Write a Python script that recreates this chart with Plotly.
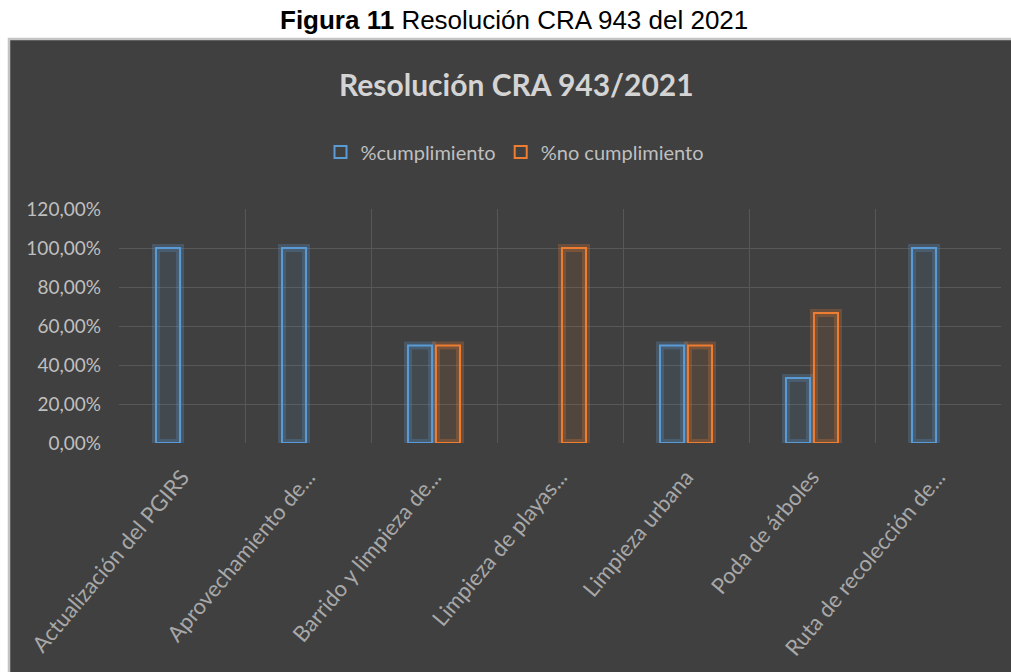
import plotly.graph_objects as go

categorias = ["Actualización del PGIRS", "Aprovechamiento de...", "Barrido y limpieza de...",
              "Limpieza de playas...", "Limpieza urbana", "Poda de árboles", "Ruta de recolección de..."]
cumplimiento = [1.0, 1.0, 0.5, 0.0, 0.5, 0.3333, 1.0]
no_cumplimiento = [0.0, 0.0, 0.5, 1.0, 0.5, 0.6667, 0.0]
tick_vals = [0, 0.2, 0.4, 0.6, 0.8, 1.0, 1.2]

BLUE = "#5B9BD5"
ORANGE = "#ED7D31"
BG = "#404040"


def visible(vals):
    # Excel draws nothing for a 0 % bar
    return [v if v > 0 else None for v in vals]


fig = go.Figure()
# soft glow behind each outlined bar
fig.add_trace(go.Bar(x=categorias, y=visible(cumplimiento), offsetgroup="1", showlegend=False, hoverinfo="skip",
                     marker=dict(color="rgba(91,155,213,0.10)", line=dict(color="rgba(91,155,213,0.25)", width=8))))
fig.add_trace(go.Bar(x=categorias, y=visible(no_cumplimiento), offsetgroup="2", showlegend=False, hoverinfo="skip",
                     marker=dict(color="rgba(237,125,49,0.10)", line=dict(color="rgba(237,125,49,0.25)", width=8))))
# outlined bars
fig.add_trace(go.Bar(x=categorias, y=visible(cumplimiento), offsetgroup="1", name="%cumplimiento",
                     marker=dict(color="rgba(0,0,0,0)", line=dict(color=BLUE, width=2))))
fig.add_trace(go.Bar(x=categorias, y=visible(no_cumplimiento), offsetgroup="2", name="%no cumplimiento",
                     marker=dict(color="rgba(0,0,0,0)", line=dict(color=ORANGE, width=2))))

FW, FH = 1011, 672
L, R = 119, 10
T = 209
B = FH - 443
W = FW - L - R
H = FH - T - B


def px_x(p):  # reference pixel -> paper x
    return (p - L) / W


def px_y(p):  # reference pixel -> paper y
    return (FH - B - p) / H


fig.update_layout(
    width=FW, height=FH,
    margin=dict(l=L, r=R, t=T, b=B),
    paper_bgcolor="white",
    plot_bgcolor="rgba(0,0,0,0)",
    barmode="group",
    bargap=0.556,
    bargroupgap=0.14,
    separators=",.",
    showlegend=True,
    legend=dict(orientation="h", x=px_x(515), xanchor="center", y=px_y(152), yanchor="middle",
                font=dict(family="Lato", size=20, color="#BFBFBF"), bgcolor="rgba(0,0,0,0)",
                itemwidth=30, traceorder="normal"),
    shapes=[dict(type="rect", xref="paper", yref="paper", layer="below",
                 x0=px_x(9), x1=px_x(1020), y0=px_y(680), y1=px_y(39),
                 fillcolor=BG, line=dict(color="#C4C4C4", width=2.5))],
    annotations=[
        dict(text="<b>Figura 11</b> Resolución CRA 943 del 2021", xref="paper", yref="paper",
             x=px_x(514), y=px_y(20), showarrow=False, xanchor="center", yanchor="middle",
             font=dict(family="Liberation Sans", size=26, color="black")),
        dict(text="<b>Resolución CRA 943/2021</b>", xref="paper", yref="paper",
             x=px_x(516), y=px_y(84), showarrow=False, xanchor="center", yanchor="middle",
             font=dict(family="Lato", size=30, color="#D4D4D4")),
    ],
    xaxis=dict(tickson="boundaries", showgrid=True, gridcolor="#575757", gridwidth=1.3,
               tickangle=-50, ticks="", ticklabelstandoff=16,
               tickfont=dict(family="Lato", size=22, color="#A8A8A8"),
               showline=False, zeroline=False),
    yaxis=dict(range=[0, 1.2], tickvals=tick_vals, tickformat=".2%", ticks="",
               showgrid=True, gridcolor="#575757", gridwidth=1.3, zeroline=False,
               ticklabelstandoff=17,
               tickfont=dict(family="Lato", size=19, color="#BFBFBF")),
)

# remove the default 8 px page margin so the figure fills the window exactly
fig.write_html("out.html", config={"displayModeBar": False},
               post_script="document.body.style.margin='0';document.body.style.overflow='hidden';")
